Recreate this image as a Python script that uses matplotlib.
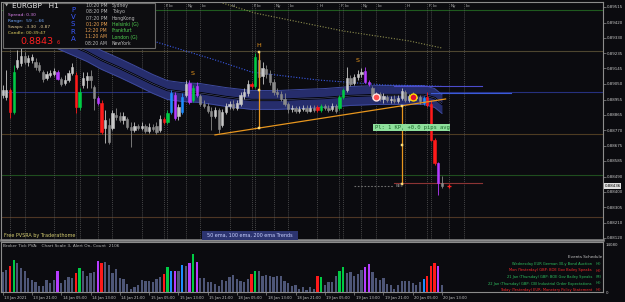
import matplotlib
matplotlib.use("Agg")
import matplotlib.pyplot as plt
import matplotlib.transforms as mtransforms
from matplotlib.patches import Rectangle
import numpy as np

# EURGBP H1, bars from 13 Jan 13:00 to 20 Jan 13:00
opens = [0.88983, 0.88971, 0.89013, 0.88881, 0.89152, 0.89176, 0.89219, 0.89183, 0.89195, 0.89183,
         0.89164, 0.89122, 0.89086, 0.89104, 0.89110, 0.89122, 0.89080, 0.89056, 0.89074, 0.89116,
         0.89104, 0.88911, 0.89044, 0.89074, 0.89098, 0.89032, 0.88965, 0.88935, 0.88784, 0.88802,
         0.88784, 0.88862, 0.88856, 0.88832, 0.88838, 0.88790, 0.88772, 0.88796, 0.88784, 0.88796,
         0.88766, 0.88790, 0.88796, 0.88772, 0.88838, 0.88820, 0.88881, 0.88983, 0.88856, 0.88881,
         0.88983, 0.89056, 0.88953, 0.89038, 0.88977, 0.88929, 0.88917, 0.88887, 0.88856, 0.88893,
         0.88802, 0.88881, 0.88917, 0.88929, 0.88905, 0.88929, 0.88977, 0.88995, 0.89050, 0.89038,
         0.89195, 0.89098, 0.89140, 0.89110, 0.89062, 0.89001, 0.88989, 0.88959, 0.88929, 0.88899,
         0.88905, 0.88887, 0.88899, 0.88905, 0.88887, 0.88905, 0.88911, 0.88893, 0.88917, 0.88905,
         0.88899, 0.88917, 0.88905, 0.88971, 0.89013, 0.89086, 0.89056, 0.89092, 0.89110, 0.89128,
         0.89062, 0.89026, 0.88977, 0.88989, 0.88959, 0.88971, 0.88953, 0.88959, 0.88947, 0.88965,
         0.89001, 0.88953, 0.88977, 0.88965, 0.88971, 0.88935, 0.88971, 0.88929, 0.88711, 0.88573,
         0.88452]
highs = [0.89044, 0.89134, 0.89026, 0.89164, 0.89255, 0.89273, 0.89243, 0.89225, 0.89231, 0.89207,
         0.89183, 0.89134, 0.89128, 0.89134, 0.89146, 0.89134, 0.89092, 0.89104, 0.89134, 0.89176,
         0.89122, 0.89026, 0.89122, 0.89122, 0.89134, 0.89044, 0.88977, 0.88953, 0.88893, 0.88844,
         0.88893, 0.88905, 0.88881, 0.88881, 0.88850, 0.88820, 0.88820, 0.88808, 0.88820, 0.88808,
         0.88814, 0.88808, 0.88820, 0.88862, 0.88850, 0.88893, 0.89013, 0.89001, 0.88929, 0.88995,
         0.89074, 0.89074, 0.89044, 0.89062, 0.88989, 0.88953, 0.88935, 0.88911, 0.88911, 0.88905,
         0.88899, 0.88935, 0.88947, 0.88953, 0.88953, 0.89001, 0.89026, 0.89074, 0.89062, 0.89237,
         0.89243, 0.89183, 0.89164, 0.89134, 0.89080, 0.89026, 0.89007, 0.88995, 0.88941, 0.88923,
         0.88917, 0.88917, 0.88923, 0.88923, 0.88923, 0.88923, 0.88923, 0.88929, 0.88929, 0.88923,
         0.88935, 0.88929, 0.88983, 0.89026, 0.89152, 0.89104, 0.89110, 0.89134, 0.89146, 0.89152,
         0.89074, 0.89038, 0.89001, 0.89001, 0.88995, 0.88983, 0.88977, 0.88983, 0.88983, 0.89026,
         0.89013, 0.88989, 0.89001, 0.88983, 0.88983, 0.88977, 0.89001, 0.88953, 0.88724, 0.88579,
         0.88494]
lows = [0.88965, 0.88953, 0.88844, 0.88868, 0.89140, 0.89158, 0.89170, 0.89158, 0.89176, 0.89134,
        0.89122, 0.89062, 0.89074, 0.89092, 0.89098, 0.89074, 0.89038, 0.89044, 0.89062, 0.89104,
        0.88875, 0.88893, 0.89026, 0.89026, 0.89026, 0.88893, 0.88923, 0.88748, 0.88693, 0.88687,
        0.88772, 0.88832, 0.88820, 0.88808, 0.88778, 0.88669, 0.88760, 0.88772, 0.88772, 0.88754,
        0.88754, 0.88766, 0.88748, 0.88760, 0.88808, 0.88808, 0.88868, 0.88832, 0.88832, 0.88868,
        0.88971, 0.88929, 0.88941, 0.88971, 0.88917, 0.88905, 0.88875, 0.88772, 0.88844, 0.88754,
        0.88790, 0.88868, 0.88899, 0.88893, 0.88893, 0.88917, 0.88959, 0.88977, 0.89026, 0.89026,
        0.89074, 0.89050, 0.89086, 0.89044, 0.88983, 0.88971, 0.88947, 0.88917, 0.88875, 0.88881,
        0.88875, 0.88875, 0.88887, 0.88875, 0.88881, 0.88881, 0.88881, 0.88881, 0.88893, 0.88881,
        0.88887, 0.88875, 0.88893, 0.88959, 0.89001, 0.89038, 0.89044, 0.89074, 0.89092, 0.89056,
        0.89038, 0.88959, 0.88953, 0.88947, 0.88935, 0.88941, 0.88935, 0.88935, 0.88935, 0.88953,
        0.88941, 0.88941, 0.88953, 0.88953, 0.88929, 0.88923, 0.88911, 0.88705, 0.88560, 0.88379,
        0.88421]
closes = [0.89013, 0.89013, 0.88881, 0.89122, 0.89195, 0.89219, 0.89183, 0.89207, 0.89213, 0.89152,
          0.89134, 0.89080, 0.89110, 0.89116, 0.89128, 0.89080, 0.89050, 0.89074, 0.89116, 0.89152,
          0.88911, 0.89001, 0.89086, 0.89098, 0.89074, 0.88965, 0.88935, 0.88760, 0.88832, 0.88699,
          0.88875, 0.88850, 0.88832, 0.88856, 0.88790, 0.88772, 0.88796, 0.88784, 0.88796, 0.88766,
          0.88790, 0.88778, 0.88760, 0.88838, 0.88820, 0.88875, 0.88995, 0.88844, 0.88911, 0.88971,
          0.89050, 0.88941, 0.89026, 0.88983, 0.88929, 0.88917, 0.88887, 0.88856, 0.88893, 0.88778,
          0.88881, 0.88917, 0.88929, 0.88905, 0.88935, 0.88983, 0.89001, 0.89050, 0.89038, 0.89213,
          0.89092, 0.89146, 0.89110, 0.89062, 0.89001, 0.88989, 0.88959, 0.88929, 0.88899, 0.88905,
          0.88887, 0.88899, 0.88905, 0.88887, 0.88905, 0.88893, 0.88893, 0.88917, 0.88905, 0.88893,
          0.88917, 0.88887, 0.88971, 0.89013, 0.89086, 0.89050, 0.89092, 0.89110, 0.89122, 0.89062,
          0.89050, 0.88977, 0.88989, 0.88959, 0.88977, 0.88953, 0.88959, 0.88947, 0.88965, 0.89007,
          0.88953, 0.88977, 0.88965, 0.88971, 0.88947, 0.88965, 0.88923, 0.88711, 0.88573, 0.88452,
          0.88436]
volumes = [5780, 6570, 7550, 9510, 8530, 7060, 6080, 4120, 3430, 2840,
           1860, 1670, 3430, 2650, 3630, 6270, 2650, 3630, 4410, 4120,
           5590, 7060, 6080, 4800, 5590, 5780, 9210, 8530, 8920, 8040,
           5590, 6760, 4120, 3820, 2350, 880, 1470, 2160, 3430, 3140,
           3140, 2840, 3820, 4410, 5290, 7250, 6080, 6080, 6080, 8040,
           7550, 8530, 11270, 8720, 4120, 4120, 2840, 2840, 2450, 1670,
           3630, 3140, 4410, 5100, 3820, 3140, 2840, 3820, 5390, 6270,
           6080, 4610, 5100, 4800, 4410, 4610, 4610, 3140, 2650, 1860,
           2160, 880, 1470, 490, 1470, 880, 4610, 4410, 2160, 2840,
           2840, 4610, 6080, 7350, 5590, 5780, 4610, 5390, 6370, 7350,
           8230, 5780, 4120, 3630, 4120, 2450, 2160, 880, 2160, 3140,
           3140, 3140, 2650, 2160, 2840, 3920, 4610, 7550, 8530, 7740,
           2160]
# PVSRA class per bar: . normal, r/g climax, b/m rising volume
pvsra = list("..rg......" ".....m...." "rg....mr.." ".........." "....rgbm.b"
             ".mgm......" "........rg" ".........." "......rg.." "..gg.....m"
             "m........." ".....brrrm" ".")

time_labels = ["13 Jan 2021", "13 Jan 21:00", "14 Jan 05:00", "14 Jan 13:00", "14 Jan 21:00",
               "15 Jan 05:00", "15 Jan 13:00", "15 Jan 21:00", "18 Jan 05:00", "18 Jan 13:00",
               "18 Jan 21:00", "19 Jan 05:00", "19 Jan 13:00", "19 Jan 21:00", "20 Jan 05:00",
               "20 Jan 13:00"]
price_ticks = [0.89515, 0.89420, 0.89330, 0.89235, 0.89145, 0.89050, 0.88955, 0.88865,
               0.88770, 0.88675, 0.88585, 0.88490, 0.88400, 0.88305, 0.88210, 0.88120]
bid = 0.88436

# horizontal levels
levels = [0.89497, 0.89249, 0.89001, 0.88748, 0.88500, 0.88246]
level_colors = ['#1f5a1f', '#4e4630', '#26307e', '#4e3c22', '#1f4e1f', '#4e3624']

# ema ribbon (centre) and long emas
band_bars = [13, 18, 23, 27, 32, 36, 41, 45, 49, 54, 61, 68, 75, 81, 88, 95, 102, 109, 115, 118, 120]
band_mid = [0.89340, 0.89291, 0.89243, 0.89195, 0.89146, 0.89104, 0.89050, 0.89013, 0.89001, 0.88995,
            0.88971, 0.88953, 0.88953, 0.88959, 0.88965, 0.88977, 0.88983, 0.88983, 0.88983, 0.88965, 0.88929]
band_half = 0.00057
ema_blue_bars = [27, 42, 58, 68, 86, 104, 117, 120]
ema_blue = [0.89418, 0.89303, 0.89195, 0.89122, 0.89074, 0.89044, 0.89038, 0.89035]
ema_olive_bars = [54, 69, 93, 111, 120]
ema_olive = [0.89580, 0.89478, 0.89370, 0.89310, 0.89267]

# session markers (bar index)
session_bars = [-4, -3, 2, 6, 14, 20, 21, 26, 30, 38, 44, 45, 50, 54, 62,
                68, 69, 74, 78, 86, 92, 93, 98, 102, 110, 116, 117, 122, 126]
session_names = ["F", "Lo", "Ny", "Lo", "H"] * 5 + ["F", "Lo", "Ny", "Lo"]

# trendline, pivots, trade
trend_bars = [58, 121]
trend_prices = [0.88742, 0.88959]
high_bar, high_price = 70, 0.89243
trade_bar, trade_stop = 109, 0.88446
signal_bars = [102, 112]
signal_prices = [0.88971, 0.88971]
s_bars = [52, 97]
s_prices = [0.89116, 0.89189]
seg_start = [107, 117, 107, 96]
seg_end = [131, 139, 131, 107]
seg_price = [0.89038, 0.88998, 0.88452, 0.88434]

W, H = 625, 302
BG = '#0b0b0f'


def fx(x):
    return x / W


def fy(y):
    return 1 - y / H


fig = plt.figure(figsize=(W / 100, H / 100), dpi=100, facecolor=BG)
ax = fig.add_axes([fx(1), fy(240), 602 / W, 238 / H], facecolor=BG)
ax2 = fig.add_axes([fx(1), fy(292), 602 / W, 50 / H], facecolor=BG)

bars = np.arange(len(opens))
o, hi, lo, c = map(np.array, (opens, highs, lows, closes))
xlim = (-0.46, 164.0)

pv_col = {'r': '#ff1a1a', 'g': '#00cc44', 'b': '#1e8cff', 'm': '#b63cff'}
cols = [pv_col.get(k, '#c8c8c8' if c[i] >= o[i] else '#8a8a8a') for i, k in enumerate(pvsra)]
vcols = [pv_col.get(k, '#4e5677') for k in pvsra]

# --- main chart ---
for lv, lc in zip(levels, level_colors):
    ax.axhline(lv, color=lc, lw=0.8, zorder=0.5)
for b in session_bars:
    ax.axvline(b, color='#5a5a5a', lw=0.5, ls=(0, (1.5, 1.5)), zorder=0.6)
for b, name in zip(session_bars, session_names):
    if b < 42:  # hidden under the info panel
        continue
    ax.text(b + 0.45, 0.89521, name, color='#b4b4b4', fontsize=3.0, ha='left', va='center',
            zorder=2, clip_on=True)

mid = np.array(band_mid)
ax.fill_between(band_bars, mid - band_half, mid + band_half, color='#262d6c', lw=0, zorder=1)
ax.plot(band_bars, mid + band_half, color='#3e4a9e', lw=0.7, zorder=1.1)
ax.plot(band_bars, mid - band_half, color='#3e4a9e', lw=0.7, zorder=1.1)
ax.plot(band_bars, mid, color='#000000', lw=1.6, zorder=1.2)
ax.plot(band_bars, mid, color='#5a6296', lw=0.35, zorder=1.3)
ax.plot(ema_blue_bars, ema_blue, color='#3a5ae8', lw=0.8, ls=(0, (1, 1.5)), zorder=1.4)
ax.plot(ema_olive_bars, ema_olive, color='#8e8e4e', lw=0.8, ls=(0, (1, 1.5)), zorder=1.4)

ax.vlines(bars, lo, hi, colors=cols, lw=0.6, zorder=3)
ax.bar(bars, c - o, bottom=o, width=0.62, color=cols, edgecolor=cols, linewidth=0.4, zorder=4)

orange = '#e8961e'
ax.plot(trend_bars, trend_prices, color=orange, lw=0.9, zorder=5)
h_low = np.interp(high_bar, trend_bars, trend_prices)
ax.plot([high_bar, high_bar], [h_low, high_price], color=orange, lw=0.9, zorder=5)
ax.plot([high_bar] * 3, [high_price, (high_price + h_low) / 2, h_low], 's', ms=2,
        color='#ffd040', mec='#fff4c0', mew=0.3, zorder=6)
ax.text(high_bar, high_price + 0.00022, "H", color=orange, fontsize=4.6, ha='center', va='bottom', zorder=6)
t_top = np.interp(trade_bar, trend_bars, trend_prices)
ax.plot([trade_bar, trade_bar], [t_top, trade_stop], color=orange, lw=0.9, zorder=5)
ax.plot([trade_bar] * 3, [t_top, (t_top + trade_stop) / 2, trade_stop], 's', ms=2,
        color='#ffd040', mec='#fff4c0', mew=0.3, zorder=6)
for b, p in zip(s_bars, s_prices):
    ax.text(b, p, "S", color=orange, fontsize=4.6, ha='center', va='center', zorder=6)

seg_cols = ['#4c4ccc', '#3a5ad8', '#8c3434', '#707070']
seg_ls = ['-', '-', '-', (0, (1.5, 1.5))]
for s, e, p, sc, sl in zip(seg_start, seg_end, seg_price, seg_cols, seg_ls):
    ax.plot([s, e], [p, p], color=sc, lw=0.8, ls=sl, zorder=2.5)
ax.text(seg_end[3] + 0.4, seg_price[3], "BEL", color='#8a8a8a', fontsize=3, ha='left', va='center', zorder=6)
ax.plot(seg_end[3] + 15, seg_price[3], '+', color='#ff2020', ms=3, mew=0.9, zorder=6)

ax.plot(signal_bars[0], signal_prices[0], 'o', ms=5, mfc='#ff5050', mec='#ffe6e6', mew=1.0, zorder=7)
ax.plot(signal_bars[1], signal_prices[1], 'o', ms=5, mfc='#e01030', mec='#ffd700', mew=1.0, zorder=7)

ax.text(111.8, 0.88787, "Pl: 1 KP, +0.0 pips avg", family='DejaVu Sans Mono', fontsize=4.0,
        color='#1c6a2c', ha='center', va='center', zorder=8,
        bbox=dict(facecolor='#8ee09c', edgecolor='none', pad=0.8))

ax.set_xlim(*xlim)
ax.set_ylim(0.88107, 0.89545)
ax.set_xticks([])
ax.yaxis.tick_right()
ax.set_yticks(price_ticks)
ax.set_yticklabels([f"{v:.5f}" for v in price_ticks])
ax.tick_params(axis='y', length=2, width=0.5, colors='#8c8c8c', labelcolor='#c8c8c8',
               labelsize=2.9, pad=1.0)
for side, sp in ax.spines.items():
    sp.set_color('#8c8c8c')
    sp.set_linewidth(0.8)
ax.spines['bottom'].set_linewidth(1.8)

# --- volume sub-window ---
ax2.bar(bars, volumes, width=0.62, color=vcols, linewidth=0)
ax2.set_xlim(*xlim)
ax2.set_ylim(0, 14667)
ax2.yaxis.tick_right()
ax2.set_yticks([0, 14080])
ax2.set_yticklabels(["0", "14080"])
ax2.tick_params(axis='y', length=0, labelcolor='#c8c8c8', labelsize=2.9, pad=2.0)
ax2.set_xticks(np.arange(0, 121, 8))
ax2.set_xticklabels(time_labels)
ax2.tick_params(axis='x', length=2, width=0.5, colors='#8c8c8c', labelcolor='#c8c8c8',
                labelsize=2.7, pad=0.8)
shift = mtransforms.ScaledTranslation(1.5 / 100, 0, fig.dpi_scale_trans)
for lbl in ax2.get_xticklabels():
    lbl.set_ha('left')
    lbl.set_transform(lbl.get_transform() + shift)
for side, sp in ax2.spines.items():
    sp.set_color('#8c8c8c')
    sp.set_linewidth(0.8)

# --- overlays in pixel positions ---
fig.patches.append(Rectangle((fx(3), fy(48)), 152 / W, 45 / H, transform=fig.transFigure,
                             facecolor='#0d0d10', edgecolor='#6a6a6a', lw=0.8, zorder=5))
t = dict(zorder=6, va='center')
fig.text(fx(5), fy(5.5), "▼", color='#b0b0b0', fontsize=3.0, **t)
fig.text(fx(12), fy(6), "EURGBP   H1", color='#e8e8e8', fontsize=5.2, **t)
fig.text(fx(8), fy(15), "Spread: 0.30", color='#d880e8', fontsize=3.2, **t)
fig.text(fx(8), fy(21), "Range:  59  ...66", color='#70a8ff', fontsize=3.2, **t)
fig.text(fx(8), fy(27), "Swaps: -3.30  -0.87", color='#e0c890', fontsize=3.2, **t)
fig.text(fx(8), fy(33), "Candle: 00:39:47", color='#e0d060', fontsize=3.2, **t)
fig.text(fx(20), fy(42), "0.8843", color='#ff2020', fontsize=6.8, **t)
fig.text(fx(57), fy(43), "6", color='#ff2020', fontsize=3.6, **t)
for k, ch in enumerate("PVSRA"):
    fig.text(fx(73), fy(10 + 7.2 * k), ch, color='#3a5aff', fontsize=5.0, ha='center', **t)
clock_times = ["10:20 PM", "08:20 PM", "07:20 PM", "01:20 PM", "12:20 PM", "11:20 AM", "08:20 AM"]
clock_cities = ["Sydney", "Tokyo", "HongKong", "Helsinki (G)", "Frankfurt", "London (G)", "NewYork"]
time_cols = ['#b8b8b8'] * 3 + ['#e8a050'] * 3 + ['#b8b8b8']
city_cols = ['#b8b8b8'] * 3 + ['#50d050'] * 3 + ['#b8b8b8']
for k in range(7):
    yy = fy(5.5 + 6.3 * k)
    fig.text(fx(107), yy, clock_times[k], color=time_cols[k], fontsize=3.3, ha='right', **t)
    fig.text(fx(112), yy, clock_cities[k], color=city_cols[k], fontsize=3.3, ha='left', **t)

fig.text(fx(604.5), fy(186), f"{bid:.5f}", color='#000000', fontsize=2.9, zorder=7, va='center',
         bbox=dict(facecolor='#e0e0e0', edgecolor='none', pad=0.5))
fig.text(fx(4), fy(235.5), "Free PVSRA by Traderathome", color='#d4cc70', fontsize=3.5, **t)
fig.patches.append(Rectangle((fx(202), fy(240)), 96 / W, 9 / H, transform=fig.transFigure,
                             facecolor='#2c3470', edgecolor='none', zorder=5))
fig.text(fx(250), fy(235.5), "50 ema, 100 ema, 200 ema Trends", color='#c8d0ff', fontsize=3.5,
         ha='center', **t)
fig.text(fx(3), fy(246), "Broker Tick PVA:   Chart Scale 3, Alert On, Count  2106",
         color='#b4b4b4', fontsize=3.1, **t)

fig.text(fx(602), fy(257), "Events Schedule", color='#c8c8c8', fontsize=3.0, ha='right', **t)
events = ["Wednesday EUR German 30-y Bond Auction",
          "Mon (Yesterday) GBP: BOE Gov Bailey Speaks",
          "21 Jan (Thursday) GBP: BOE Gov Bailey Speaks",
          "22 Jan (Thursday) GBP: CBI Industrial Order Expectations",
          "Today (Yesterday) EUR: Monetary Policy Statement"]
event_imp = ["(H)", "(H)", "(M)", "(H)", "(H)"]
event_cols = ['#2ec060', '#ff2a2a', '#2ec060', '#2ec060', '#ff2a2a']
for k in range(5):
    yy = fy(264 + 6.5 * k)
    fig.text(fx(592), yy, events[k], color=event_cols[k], fontsize=2.6, ha='right', **t)
    fig.text(fx(596), yy, event_imp[k], color=event_cols[k], fontsize=2.6, ha='left', **t)

fig.savefig("out.png", dpi=100, facecolor=BG)
